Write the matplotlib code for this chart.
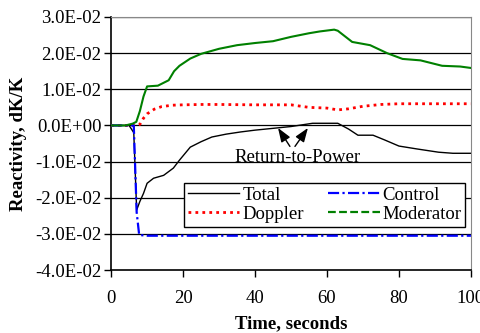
import matplotlib.pyplot as plt

# Time (s) and reactivity (dK/K)
t_total = [0, 5, 6.3, 7.1, 8, 9, 10, 11.8, 14.6, 17.3, 19, 22, 25, 28, 32, 36, 40, 46, 50, 56, 60, 63,
           66, 68.6, 72.8, 76, 80, 85, 91, 95, 100]
total = [0, 0, -0.002, -0.0234, -0.021, -0.0188, -0.016, -0.0146, -0.0138, -0.0118, -0.0096, -0.006,
         -0.0045, -0.0032, -0.0024, -0.0018, -0.0013, -0.0007, -0.0003, 0.0006, 0.0006, 0.0006,
         -0.001, -0.0027, -0.0027, -0.004, -0.0057, -0.0065, -0.0074, -0.0077, -0.0077]

t_doppler = [0, 7, 8, 9, 10, 12, 14, 17, 20, 25, 30, 40, 50, 55, 60, 63, 66, 70, 75, 80, 90, 100]
doppler = [0, 0, 0.0003, 0.002, 0.0032, 0.0045, 0.0052, 0.0056, 0.0057, 0.0058, 0.0058, 0.0057,
           0.0057, 0.005, 0.0048, 0.0043, 0.0046, 0.0053, 0.0058, 0.006, 0.006, 0.006]

t_control = [0, 6.3, 7.1, 7.8, 10, 14, 20, 100]
control = [0, 0, -0.024, -0.0303, -0.0305, -0.0305, -0.0305, -0.0305]

t_moderator = [0, 4, 6, 7, 8, 9, 10, 13, 16, 17.5, 19, 22, 25, 30, 35, 40, 45, 50, 55, 58,
               62, 63, 67, 72, 76.7, 81, 86, 92, 97, 100]
moderator = [0, 0, 0.0005, 0.001, 0.004, 0.008, 0.0108, 0.011, 0.0125, 0.015, 0.0165, 0.0185,
             0.0198, 0.0212, 0.0222, 0.0228, 0.0233, 0.0245, 0.0255, 0.026, 0.0265, 0.0262,
             0.0231, 0.0222, 0.02, 0.0184, 0.018, 0.0165, 0.0163, 0.0159]

y_ticks = [-0.04, -0.03, -0.02, -0.01, 0.0, 0.01, 0.02, 0.03]
y_labels = ["-4.0E-02", "-3.0E-02", "-2.0E-02", "-1.0E-02", "0.0E+00", "1.0E-02", "2.0E-02", "3.0E-02"]

FS = 13.5


def main():
    plt.rcParams['font.family'] = ['Liberation Serif', 'DejaVu Serif']
    fig = plt.figure(figsize=(4.81, 3.33), dpi=100)
    ax = fig.add_axes([0.231, 0.189, 0.748, 0.760])

    for y in y_ticks[1:]:
        ax.axhline(y, color='black', linewidth=0.9, zorder=1)

    ax.plot(t_total, total, color='black', linewidth=1.0, label='Total', zorder=3)
    ax.plot(t_doppler, doppler, color='red', linestyle=(0, (1, 1.5)), linewidth=2,
            label='Doppler', zorder=3)
    ax.plot(t_control, control, color='blue', linestyle=(0, (5, 1.5, 1, 1.5)), linewidth=1.6,
            label='Control', zorder=3)
    ax.plot(t_moderator, moderator, color='green', linestyle='-', linewidth=1.5,
            label='Moderator', zorder=3)

    ax.set_xlim(0, 100)
    ax.set_ylim(-0.04, 0.03)
    ax.set_xticks([0, 20, 40, 60, 80, 100])
    ax.set_yticks(y_ticks)
    ax.set_yticklabels(y_labels)
    ax.tick_params(labelsize=FS, direction='out', length=5, width=1)
    ax.tick_params(axis='x', pad=9)
    ax.tick_params(axis='y', pad=2)
    for side in ['top', 'right']:
        ax.spines[side].set_color('#888888')
    for side in ['left', 'bottom']:
        ax.spines[side].set_linewidth(1.2)

    ax.set_xlabel("Time, seconds", fontsize=FS, fontweight='bold', labelpad=6)
    ax.set_ylabel("Reactivity, dK/K", fontsize=FS, fontweight='bold', labelpad=6)

    ax.text(51.9, -0.0088, "Return-to-Power", fontsize=FS, ha='center', va='center', zorder=4)
    for tip, tail in [((46.4, -0.0007), (49.7, -0.0058)), ((54.7, -0.0007), (51.1, -0.0058))]:
        ax.annotate("", xy=tip, xytext=tail,
                    arrowprops=dict(arrowstyle='-|>,head_length=0.6,head_width=0.22',
                                    color='black', lw=1, mutation_scale=14, shrinkA=0, shrinkB=0),
                    zorder=4)

    handles, labels = ax.get_legend_handles_labels()
    handles[3] = plt.Line2D([], [], color='green', linestyle=(0, (3.5, 1.5)), linewidth=1.6)
    leg = ax.legend(handles, labels, ncol=2, loc='upper left', bbox_to_anchor=(0.203, 0.344),
                    borderaxespad=0, fancybox=False, framealpha=1, edgecolor='black',
                    fontsize=FS, handlelength=2.75, handletextpad=0.15, columnspacing=1.3,
                    labelspacing=0.1, borderpad=0.2)
    leg.get_frame().set_linewidth(1)
    leg.set_zorder(5)

    fig.savefig("out.png", dpi=100)


if __name__ == "__main__":
    main()
